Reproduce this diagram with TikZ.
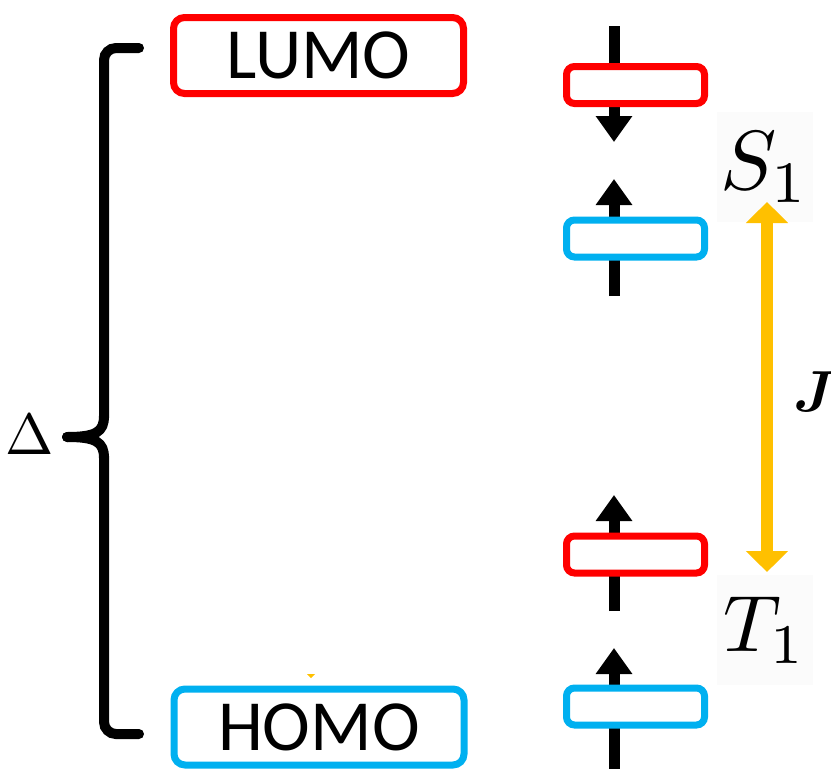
\documentclass[tikz,border=0pt]{standalone}
\usepackage{bm}
\usepackage{graphicx}
\usepackage{fontspec}
\newfontfamily\calibri{Carlito}
\usetikzlibrary{arrows.meta}
\definecolor{lred}{HTML}{FF0000}
\definecolor{lblue}{HTML}{00B0F0}
\definecolor{lgold}{HTML}{FFC000}
\definecolor{faint}{HTML}{FBFBFB}
\tikzset{
  orbbox/.style={draw=#1, line width=7pt, rounded corners=11pt, fill=white,
    minimum width=290pt, minimum height=76pt, inner sep=0pt,
    font=\calibri\fontsize{72}{80}\selectfont},
  lvlbox/.style={draw=#1, line width=7pt, rounded corners=8pt, fill=white,
    minimum width=138pt, minimum height=37pt, inner sep=0pt},
  spin/.style={line width=11pt, -{Triangle[width=35pt,length=26pt]}},
  stlabel/.style={fill=faint, minimum width=96pt, minimum height=110pt, inner sep=0pt},
  brace/.style={line width=10pt, line cap=round, rounded corners=12pt},
  exch/.style={draw=lgold, line width=12pt,
    {Triangle[width=41pt,length=21pt]}-{Triangle[width=41pt,length=21pt]}}
}
\begin{document}
\begin{tikzpicture}[x=1pt,y=-1pt]
\useasboundingbox (0,0) rectangle (831,769);
% spin arrows (drawn under the level boxes)
\coordinate (s1a) at (614,26);  \coordinate (s1b) at (614,142);
\coordinate (s2a) at (614,296); \coordinate (s2b) at (614,179);
\coordinate (s3a) at (614,611); \coordinate (s3b) at (614,495);
\coordinate (s4a) at (614,769); \coordinate (s4b) at (614,648);
\draw[spin] (s1a) -- (s1b);
\draw[spin] (s2a) -- (s2b);
\draw[spin] (s3a) -- (s3b);
\draw[spin] (s4a) -- (s4b);
% level boxes
\node[lvlbox=lred]  (r1) at (635.5,85)    {};
\node[lvlbox=lblue] (b1) at (635.5,238.5) {};
\node[lvlbox=lred]  (r2) at (635.5,554.5) {};
\node[lvlbox=lblue] (b2) at (635.5,706.5) {};
% orbital boxes
\node[orbbox=lred]  (lumo) at (318.5,55.5) {LUMO};
\node[orbbox=lblue] (homo) at (319,727)   {HOMO};
% state labels
\node[stlabel] (S1) at (765,167) {\scalebox{8.4}{$S_1$}};
\node[stlabel] (T1) at (765,630) {\scalebox{8.0}{$T_1$}};
\node (J) at (815,392) {\scalebox{5.8}{$\bm{J}$}};
% exchange arrow
\coordinate (ja) at (767,202);
\coordinate (jb) at (767,572);
\draw[exch] (ja) -- (jb);
% brace
\coordinate (bt) at (139,48);
\coordinate (bb) at (139,734);
\coordinate (bc) at (67,437);
\draw[brace] (bt) -- (104,48) -- (104,418);
\draw[line width=10pt, line cap=round] (104,416) .. controls (104,432) and (96,437) .. (bc);
\draw[line width=10pt, line cap=round] (104,458) .. controls (104,442) and (96,437) .. (bc);
\draw[brace] (104,456) -- (104,734) -- (bb);
\node (D) at (29.5,435) {\scalebox{5.8}{$\Delta$}};
% tiny mark above HOMO
\fill[lgold] (307,674) -- (315,674) -- (311,678) -- cycle;
\end{tikzpicture}
\end{document}
